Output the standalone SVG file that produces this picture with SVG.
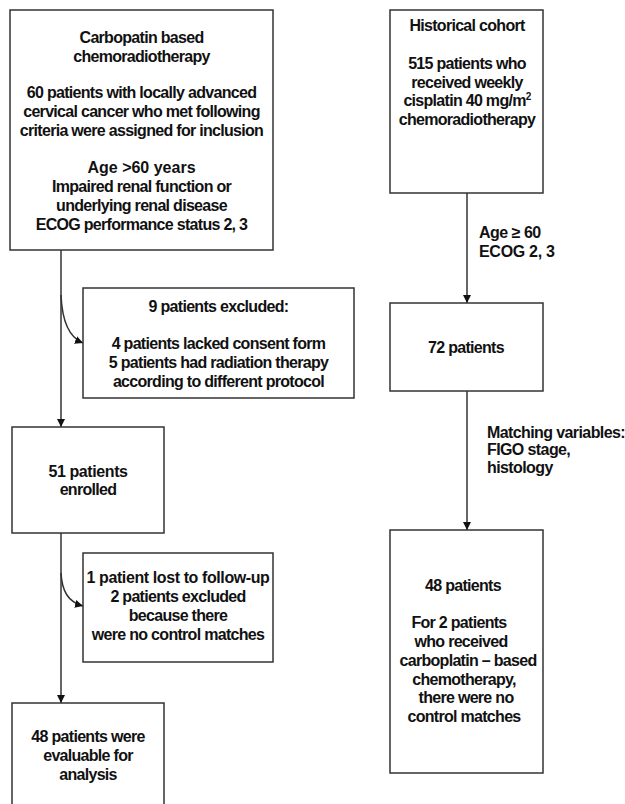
<svg xmlns="http://www.w3.org/2000/svg" width="625" height="804" viewBox="0 0 625 804">
<style>
.box{fill:#fff;stroke:#333;stroke-width:1.5}
.ln{fill:none;stroke:#333;stroke-width:1.5}
text{font-family:"Liberation Sans",Arial,sans-serif;font-weight:bold;font-size:16px;fill:#111;letter-spacing:-0.7px}
.c{text-anchor:middle}
.n{letter-spacing:0}
</style>
<defs>
<marker id="ah" viewBox="0 0 10 10" refX="10" refY="5" markerWidth="8" markerHeight="8" markerUnits="userSpaceOnUse" orient="auto">
<path d="M0,0 L10,5 L0,10 z" fill="#111"/>
</marker>
</defs>
<rect width="625" height="804" fill="#fff"/>
<g id="connectors">
<path class="ln" d="M61,250 V427" marker-end="url(#ah)"/>
<path class="ln" d="M61,533 V703" marker-end="url(#ah)"/>
<path class="ln" d="M467,193 V303" marker-end="url(#ah)"/>
<path class="ln" d="M467,391 V530" marker-end="url(#ah)"/>
<path class="ln" d="M61,295 C62,320 68,337 83,343" marker-end="url(#ah)"/>
<path class="ln" d="M61,573 C62,591 68,602 83,606" marker-end="url(#ah)"/>
<text x="479" y="238" style="letter-spacing:-0.5px">Age ≥ 60</text>
<text x="479" y="257" style="letter-spacing:-0.3px">ECOG 2, 3</text>
<text x="487" y="438" style="letter-spacing:-0.6px">Matching variables:</text>
<text x="487" y="455" style="letter-spacing:-0.6px">FIGO stage,</text>
<text x="487" y="473" style="letter-spacing:-0.6px">histology</text>
</g>
<g id="carboplatin">
<rect class="box" x="10" y="10" width="263" height="240"/>
<text class="c" x="141.5" y="43">Carbopatin based</text>
<text class="c" x="141.5" y="62">chemoradiotherapy</text>
<text class="c" x="141.5" y="98">60 patients with locally advanced</text>
<text class="c" x="141.5" y="117">cervical cancer who met following</text>
<text class="c" x="141.5" y="136">criteria were assigned for inclusion</text>
<text class="c n" x="141.5" y="173">Age &gt;60 years</text>
<text class="c" x="141.5" y="192">Impaired renal function or</text>
<text class="c" x="141.5" y="211">underlying renal disease</text>
<text class="c" x="141.5" y="230">ECOG performance status 2, 3</text>
</g>
<g id="historical">
<rect class="box" x="390" y="10" width="153" height="183"/>
<text class="c" x="467" y="31">Historical cohort</text>
<text class="c" x="467" y="69">515 patients who</text>
<text class="c" x="467" y="88">received weekly</text>
<text class="c" x="467" y="106">cisplatin 40 mg/m<tspan font-size="10" dy="-6">2</tspan></text>
<text class="c" x="467" y="125">chemoradiotherapy</text>
</g>
<g id="excluded9">
<rect class="box" x="83" y="288" width="271" height="110"/>
<text class="c" x="218.5" y="312">9 patients excluded:</text>
<text class="c" x="218.5" y="349">4 patients lacked consent form</text>
<text class="c" x="218.5" y="368">5 patients  had radiation therapy</text>
<text class="c" x="218.5" y="387">according to different protocol</text>
</g>
<g id="p72">
<rect class="box" x="390" y="303" width="153" height="88"/>
<text class="c" x="466" y="353">72 patients</text>
</g>
<g id="enrolled51">
<rect class="box" x="12" y="427" width="152" height="106"/>
<text class="c" x="88" y="477" style="letter-spacing:-0.4px">51 patients</text>
<text class="c" x="88" y="495">enrolled</text>
</g>
<g id="excluded3">
<rect class="box" x="83" y="553" width="190" height="109"/>
<text class="c" x="178" y="583" style="letter-spacing:-0.4px">1 patient lost to follow-up</text>
<text class="c" x="178" y="602">2 patients excluded</text>
<text class="c" x="178" y="621">because there</text>
<text class="c" x="178" y="640">were  no control matches</text>
</g>
<g id="matched48">
<rect class="box" x="390" y="530" width="153" height="243"/>
<text class="c" x="463" y="591">48 patients</text>
<text class="c" x="459" y="628">For 2 patients</text>
<text class="c" x="461" y="647">who received</text>
<text class="c" x="468" y="666">carboplatin – based</text>
<text class="c" x="464" y="685">chemotherapy,</text>
<text class="c" x="466" y="703">there were no</text>
<text class="c" x="464" y="722">control matches</text>
</g>
<g id="evaluable48">
<rect class="box" x="12" y="703" width="152" height="110"/>
<text class="c" x="88" y="742">48 patients were</text>
<text class="c" x="88" y="761">evaluable for</text>
<text class="c" x="88" y="780">analysis</text>
</g>
</svg>
